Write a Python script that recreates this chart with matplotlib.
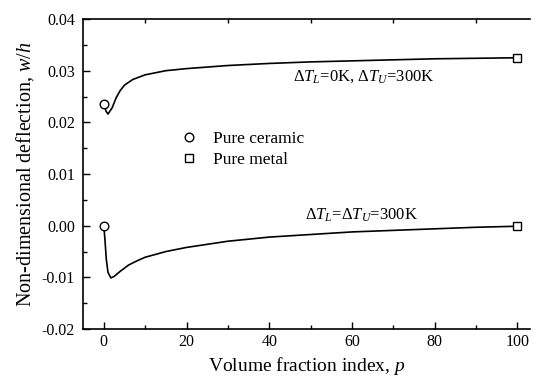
import matplotlib.pyplot as plt
from matplotlib.ticker import MultipleLocator, FormatStrFormatter

plt.rcParams['font.family'] = ['Liberation Serif', 'DejaVu Serif']
plt.rcParams['mathtext.fontset'] = 'custom'
plt.rcParams['mathtext.rm'] = 'Liberation Serif'
plt.rcParams['mathtext.it'] = 'Liberation Serif:italic'

# Curva superiore: dT_L = 0K, dT_U = 300K
p_upper = [0.2, 0.5, 1.0, 2.0, 3.0, 4.0, 5.0, 7.0, 10, 15, 20, 30, 40, 50, 60, 70, 80, 90, 100]
w_upper = [0.0232, 0.0222, 0.0216, 0.0228, 0.0248, 0.0262, 0.0272, 0.0283, 0.0292, 0.0300,
           0.0304, 0.0310, 0.0314, 0.0317, 0.0319, 0.0321, 0.0323, 0.0324, 0.0325]

# Curva inferiore: dT_L = dT_U = 300K
p_lower = [0.0, 0.3, 0.6, 1.0, 1.7, 2.5, 4.0, 6.0, 8.0, 10, 15, 20, 30, 40, 50, 60, 70, 80, 90, 100]
w_lower = [0.0, -0.0030, -0.0065, -0.0090, -0.0101, -0.0098, -0.0088, -0.0076, -0.0068, -0.0061,
           -0.0050, -0.0042, -0.0030, -0.0022, -0.0017, -0.0012, -0.0009, -0.0006, -0.0003, -0.0001]

# Marcatori agli estremi (p = 0 ceramica, p = 100 metallo)
ceramic_p = [0, 0]
ceramic_w = [0.0236, 0.0]
metal_p = [100, 100]
metal_w = [0.0325, 0.0]

fig = plt.figure(figsize=(5.33, 3.8), dpi=100)
ax = fig.add_axes([0.156, 0.134, 0.838, 0.816])

ax.plot(p_upper, w_upper, color='black', lw=1.2)
ax.plot(p_lower, w_lower, color='black', lw=1.2)
ax.plot(ceramic_p, ceramic_w, 'o', mfc='white', mec='black', ms=6.2, mew=1.0, label='Pure ceramic')
ax.plot(metal_p, metal_w, 's', mfc='white', mec='black', ms=5.8, mew=1.0, label='Pure metal')

ax.set_xlim(-5, 103)
ax.set_ylim(-0.02, 0.04)
ax.xaxis.set_major_locator(MultipleLocator(20))
ax.xaxis.set_minor_locator(MultipleLocator(10))
ax.yaxis.set_major_locator(MultipleLocator(0.01))
ax.yaxis.set_minor_locator(MultipleLocator(0.005))
ax.yaxis.set_major_formatter(FormatStrFormatter('%.2f'))
ax.tick_params(which='both', direction='in', labelsize=11.5, top=True, right=False)
ax.tick_params(which='major', length=5, width=1)
ax.tick_params(which='minor', length=3, width=1)
ax.tick_params(axis='y', which='major', pad=6)
ax.tick_params(axis='x', which='major', top=False)
ax.spines['right'].set_visible(False)
for s in ['left', 'bottom', 'top']:
    ax.spines[s].set_linewidth(1.2)

ax.set_xlabel('Volume fraction index, $\\mathit{p}$', fontsize=14)
ax.set_ylabel('Non-dimensional deflection, $\\mathit{w/h}$', fontsize=14.5)

ax.legend(loc='upper left', bbox_to_anchor=(0.163, 0.69), frameon=False, fontsize=12.5,
          handletextpad=0.4, labelspacing=0.3)

ax.text(63, 0.0289, '$\\Delta \\mathit{T_L}$=0K, $\\Delta \\mathit{T_U}$=300K', fontsize=12, ha='center', va='center')
ax.text(62.4, 0.0020, '$\\Delta \\mathit{T_L}$=$\\Delta \\mathit{T_U}$=300K', fontsize=12, ha='center', va='center')

fig.savefig('out.png', dpi=100)
